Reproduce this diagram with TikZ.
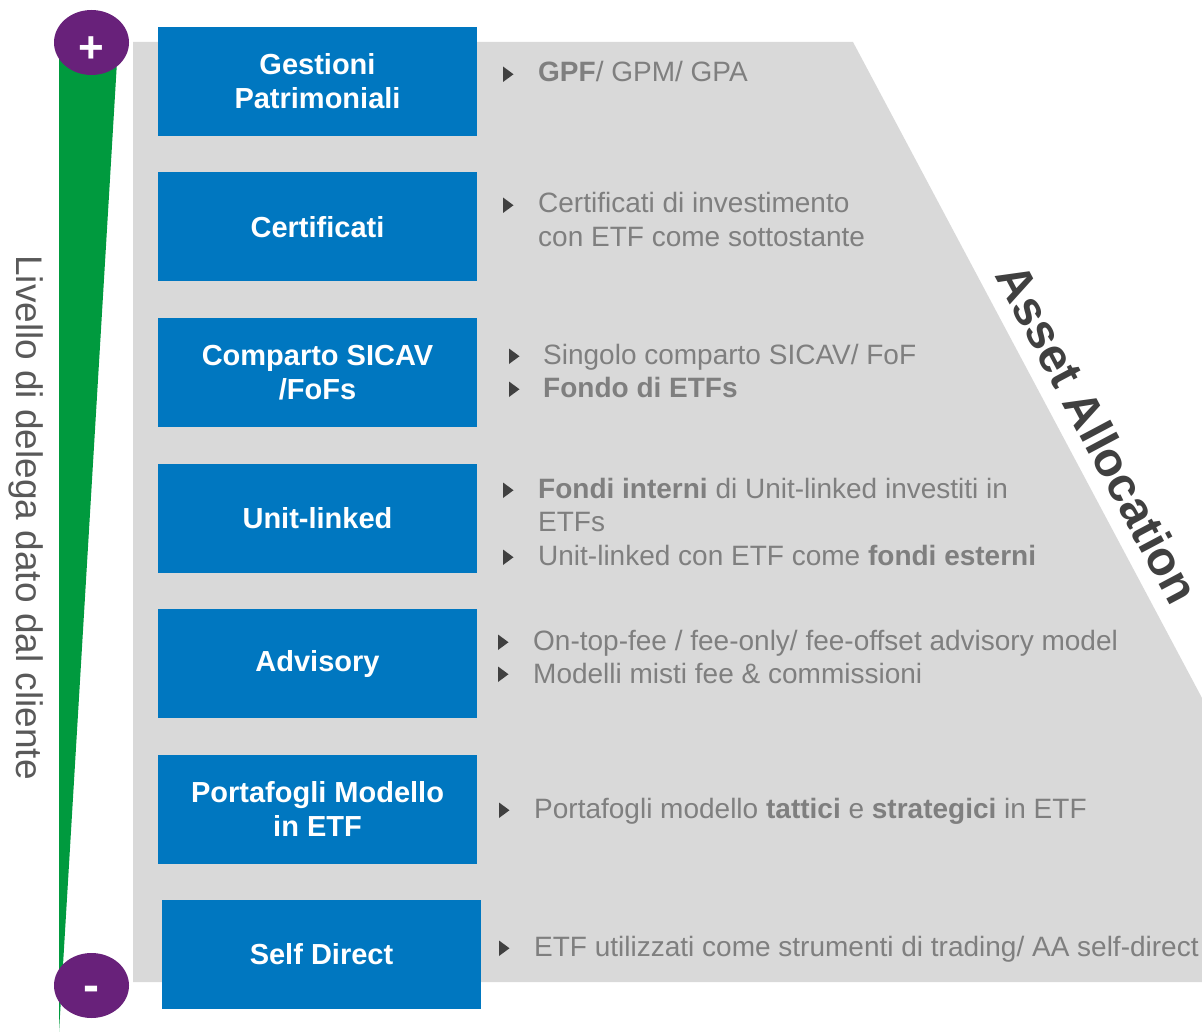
\documentclass[tikz,border=0pt]{standalone}
\usepackage{fontspec}
\setmainfont{Liberation Sans}
\usetikzlibrary{shapes,arrows,positioning,calc}

\definecolor{boxblue}{RGB}{0,119,192}
\definecolor{panelgrey}{RGB}{217,217,217}
\definecolor{txtgrey}{RGB}{127,127,127}
\definecolor{bulgrey}{RGB}{64,64,64}
\definecolor{aagrey}{RGB}{64,64,64}
\definecolor{lblgrey}{RGB}{89,89,89}
\definecolor{bargreen}{RGB}{0,154,62}
\definecolor{signpurple}{RGB}{104,33,122}

\newcommand{\tribullet}[2]{\fill[bulgrey] (#1,#2) -- ++(10.5,-7.75) -- ++(-10.5,-7.75) -- cycle;}

\begin{document}
\begin{tikzpicture}[x=1pt, y=-1pt, node distance=36.5pt]
			%define block styles
			\tikzset{
				blkbox/.style={rectangle, minimum width=319pt, minimum height=109pt, inner sep=0pt, outer sep=0pt, fill=boxblue, text=white, align=center, font=\fontsize{29}{34}\selectfont\bfseries},
				itemtxt/.style={anchor=base west, inner sep=0pt, align=left, text=txtgrey, font=\fontsize{28}{33.5}\selectfont},
				signmark/.style={ellipse, minimum width=75pt, minimum height=65pt, inner sep=0pt, fill=signpurple, text=white},
			}
			\useasboundingbox (0,0) rectangle (1202,1032);
			%define shapes
			\coordinate (dtop) at (853,42);
			\coordinate (dbot) at (1202,698);
			\fill[panelgrey] (133,42) -- (dtop) -- (dbot) -- (1202,982) -- (133,982) -- cycle;
			\fill[bargreen] (59,45) -- (118,45) -- (59,1032) -- cycle;
			%define nodes
			\node[signmark, font=\fontsize{44}{44}\selectfont\bfseries, text height=42pt, text depth=1pt] (plus) at (91.5,42.5) {+};
			\node[signmark, font=\fontsize{48}{48}\selectfont\bfseries, text height=32pt, text depth=1pt] (minus) at (91.5,985.5) {-};
			\node[rotate=-90, anchor=base, text=lblgrey, font=\fontsize{37}{37}\selectfont] (level) at (16.7,517.5) {Livello di delega dato dal cliente};
			\node[rotate=-62, anchor=base, inner sep=0pt, text=aagrey, font=\fontsize{48}{48}\selectfont\bfseries] (asset) at ($(dtop)!0.62!(dbot) + (13.2,-7)$) {Asset Allocation};
			\node[blkbox] (gest) at (317.5,81.5) {Gestioni\\Patrimoniali};
			\node[blkbox, below=of gest] (cert) {Certificati};
			\node[blkbox, below=of cert] (comp) {Comparto SICAV\\/FoFs};
			\node[blkbox, below=of comp] (unit) {Unit-linked};
			\node[blkbox, below=of unit] (adv) {Advisory};
			\node[blkbox, below=of adv] (port) {Portafogli Modello\\in ETF};
			\node[blkbox, below=of port, xshift=4pt] (self) {Self Direct};
			%define bullets
			\tribullet{503}{82}
			\tribullet{503}{213}
			\tribullet{509}{364}
			\tribullet{509}{397}
			\tribullet{503}{498}
			\tribullet{503}{565}
			\tribullet{498}{650}
			\tribullet{498}{682}
			\tribullet{499}{818}
			\tribullet{499}{956}
			%define texts (base = last line)
			\node[itemtxt] (gesttxt) at (538,82) {\textbf{GPF}/ GPM/ GPA};
			\node[itemtxt] (certtxt) at (538,246.5) {Certificati di investimento\\con ETF come sottostante};
			\node[itemtxt] (comptxt) at (543,397.5) {Singolo comparto SICAV/ FoF\\\textbf{Fondo di ETFs}};
			\node[itemtxt] (unittxt) at (538,565) {\textbf{Fondi interni} di Unit-linked investiti in\\ETFs\\Unit-linked con ETF come \textbf{fondi esterni}};
			\node[itemtxt] (advtxt) at (533,683.5) {On-top-fee / fee-only/ fee-offset advisory model\\Modelli misti fee \& commissioni};
			\node[itemtxt] (porttxt) at (534,818) {Portafogli modello \textbf{tattici} e \textbf{strategici} in ETF};
			\node[itemtxt] (selftxt) at (534,956) {ETF utilizzati come strumenti di trading/ AA self-direct};
		\end{tikzpicture}
\end{document}
